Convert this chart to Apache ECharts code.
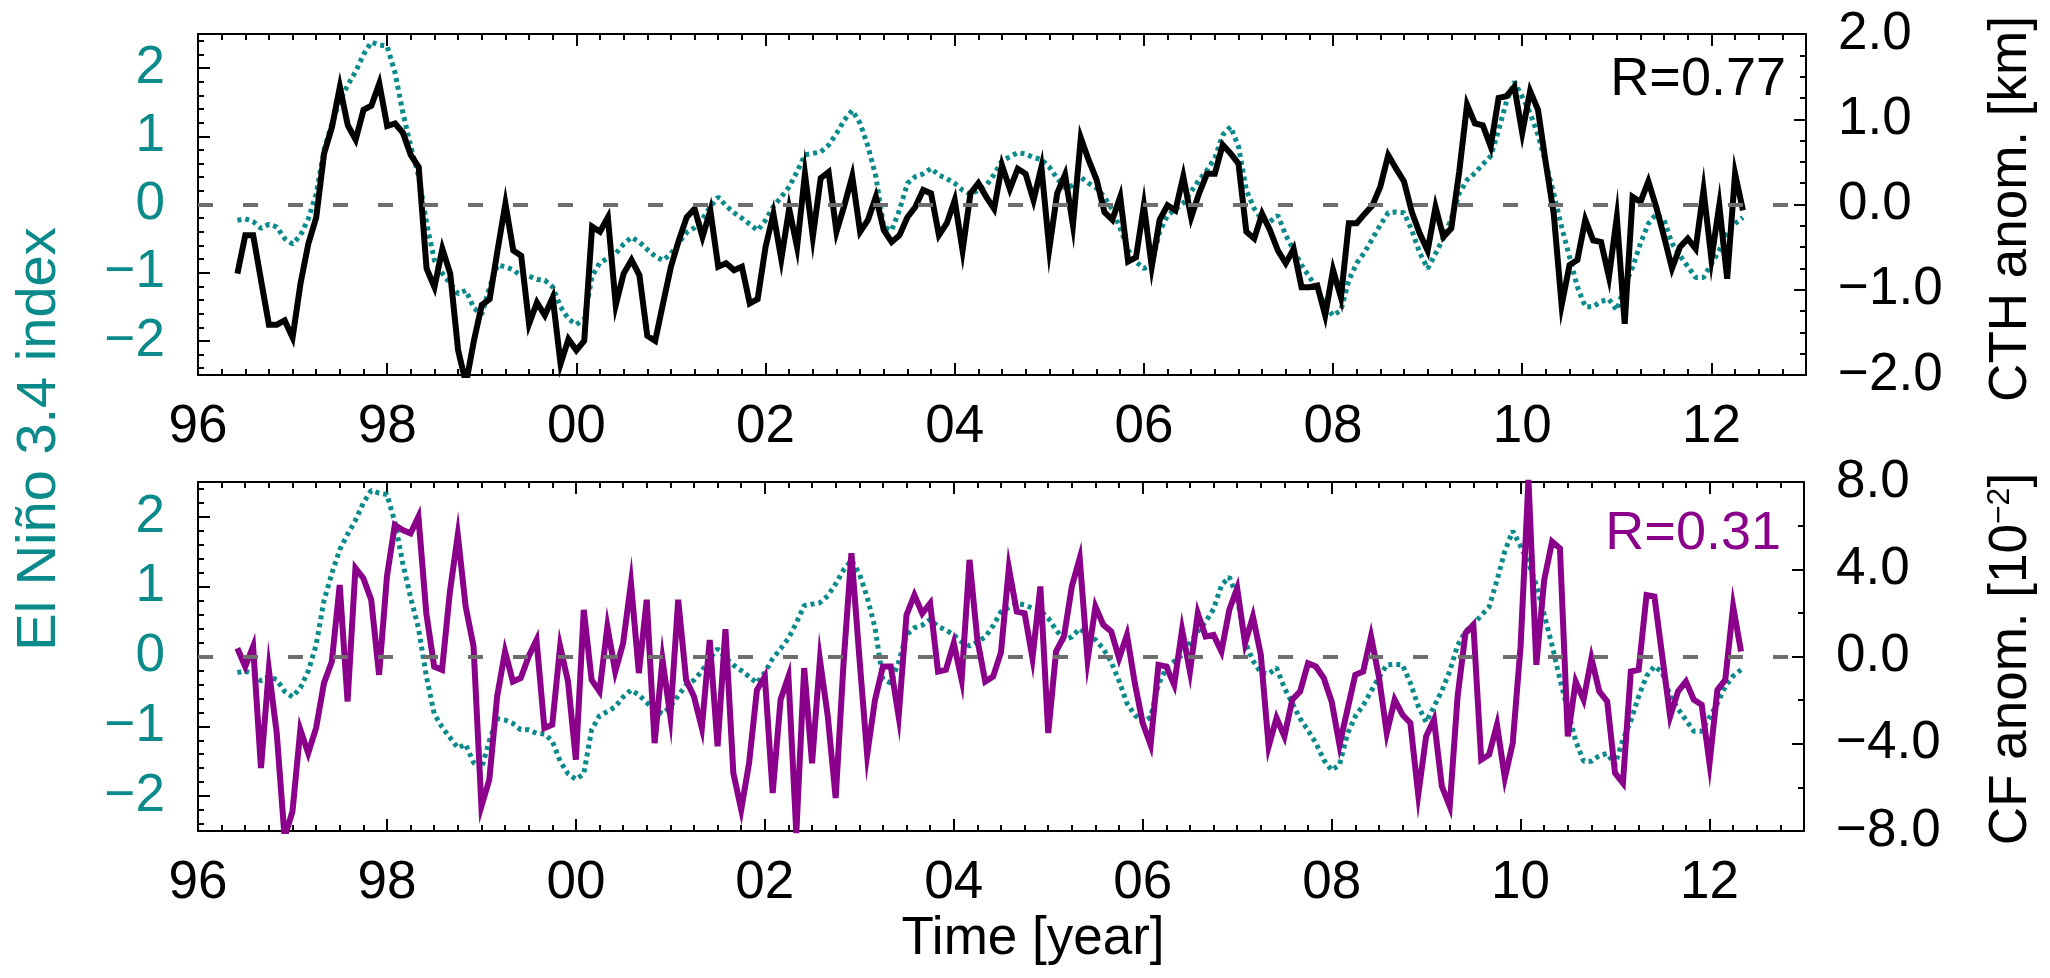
<!DOCTYPE html>
<html>
<head>
<meta charset="utf-8">
<script src="https://cdn.jsdelivr.net/npm/echarts@6/dist/echarts.min.js"></script>
<style>
html, body { margin: 0; padding: 0; background: #fff; }
#main { width: 2050px; height: 978px; }
</style>
</head>
<body>
<div id="main"></div>
<script>
// monthly series, June 1996 .. May 2012
var startYear = 1996;
var startMonth = 6;

var nino = [
  -0.23, -0.21, -0.25, -0.35, -0.29, -0.33, -0.50, -0.58, -0.45, -0.21, 0.16, 0.80,
  1.19, 1.53, 1.75, 1.95, 2.20, 2.38, 2.34, 2.32, 1.93, 1.34, 0.85, 0.41,
  -0.28, -0.82, -1.01, -1.16, -1.31, -1.26, -1.52, -1.61, -1.21, -0.89, -0.91, -0.96,
  -1.05, -1.05, -1.10, -1.11, -1.21, -1.50, -1.68, -1.76, -1.68, -1.05, -0.85, -0.79,
  -0.72, -0.58, -0.48, -0.55, -0.66, -0.76, -0.82, -0.72, -0.56, -0.41, -0.34, -0.21,
  -0.03, 0.11, -0.02, -0.12, -0.20, -0.29, -0.38, -0.23, -0.03, 0.11, 0.26, 0.48,
  0.73, 0.75, 0.77, 0.87, 1.04, 1.24, 1.38, 1.19, 0.85, 0.41, -0.33, -0.38,
  -0.08, 0.31, 0.41, 0.45, 0.53, 0.43, 0.38, 0.31, 0.21, 0.15, 0.21, 0.28,
  0.44, 0.64, 0.70, 0.76, 0.74, 0.69, 0.66, 0.55, 0.38, 0.24, 0.28, 0.40,
  0.31, 0.24, 0.11, -0.08, -0.35, -0.67, -0.84, -0.94, -0.87, -0.40, -0.16, -0.07,
  0.02, 0.19, 0.36, 0.50, 0.68, 1.02, 1.14, 0.85, 0.21, -0.06, -0.23, -0.25,
  -0.16, -0.45, -0.67, -0.89, -1.06, -1.24, -1.48, -1.63, -1.55, -1.11, -0.86, -0.70,
  -0.50, -0.30, -0.12, -0.11, -0.12, -0.38, -0.71, -0.94, -0.72, -0.49, -0.21, 0.16,
  0.36, 0.46, 0.59, 0.71, 1.09, 1.51, 1.80, 1.58, 1.34, 1.02, 0.60, 0.16,
  -0.33, -0.77, -1.21, -1.50, -1.50, -1.42, -1.39, -1.55, -1.19, -0.92, -0.57, -0.28,
  -0.14, -0.23, -0.57, -0.75, -0.91, -1.07, -1.07, -0.87, -0.67, -0.43, -0.28, -0.19
];

// cloud top height anomaly [km]
var cth = [
  -0.81, -0.36, -0.36, -0.89, -1.41, -1.41, -1.36, -1.56, -0.93, -0.46, -0.15, 0.60,
  0.91, 1.38, 0.93, 0.76, 1.11, 1.16, 1.42, 0.92, 0.95, 0.84, 0.58, 0.44,
  -0.75, -0.97, -0.52, -0.81, -1.71, -2.10, -1.60, -1.18, -1.11, -0.54, 0.01, -0.54,
  -0.60, -1.40, -1.15, -1.30, -1.09, -1.87, -1.58, -1.71, -1.60, -0.26, -0.32, -0.15,
  -1.18, -0.81, -0.65, -0.83, -1.54, -1.60, -1.16, -0.73, -0.42, -0.15, -0.05, -0.38,
  -0.07, -0.73, -0.69, -0.77, -0.73, -1.16, -1.11, -0.50, -0.11, -0.64, -0.05, -0.50,
  0.36, -0.38, 0.31, 0.38, -0.32, -0.01, 0.33, -0.32, -0.18, 0.09, -0.30, -0.44,
  -0.36, -0.15, -0.03, 0.17, 0.13, -0.36, -0.22, 0.05, -0.54, 0.13, 0.25, 0.09,
  -0.05, 0.46, 0.18, 0.42, 0.36, 0.05, 0.44, -0.52, 0.13, 0.35, -0.24, 0.78,
  0.52, 0.29, -0.09, -0.18, 0.09, -0.67, -0.62, -0.01, -0.73, -0.18, -0.01, -0.07,
  0.33, -0.15, 0.13, 0.36, 0.36, 0.70, 0.60, 0.48, -0.32, -0.40, -0.11, -0.30,
  -0.54, -0.69, -0.52, -0.97, -0.97, -0.95, -1.30, -0.77, -1.09, -0.22, -0.22, -0.11,
  -0.01, 0.21, 0.58, 0.42, 0.27, -0.09, -0.34, -0.54, -0.03, -0.38, -0.28, 0.38,
  1.17, 0.95, 0.93, 0.68, 1.25, 1.27, 1.38, 0.84, 1.33, 1.11, 0.48, -0.11,
  -1.18, -0.71, -0.65, -0.18, -0.42, -0.44, -0.85, -0.15, -1.40, 0.09, 0.03, 0.27,
  -0.03, -0.38, -0.75, -0.50, -0.40, -0.52, 0.17, -0.64, -0.01, -0.87, 0.36, -0.07
];

// cloud fraction anomaly [10^-2]
var cf = [
  0.38, -0.46, 0.46, -5.11, -0.61, -3.51, -8.30, -7.10, -3.36, -4.43, -3.28, -1.22,
  -0.23, 3.28, -2.06, 4.05, 3.59, 2.60, -0.84, 3.66, 6.03, 5.80, 5.65, 6.41,
  1.98, -0.46, -0.61, 2.98, 5.57, 2.29, 0.46, -6.87, -5.65, -1.83, 0.23, -1.15,
  -0.99, 0.00, 0.76, -3.28, -3.13, 0.46, -1.15, -4.73, 2.14, -1.07, -1.60, 1.37,
  -0.69, 0.61, 3.36, -0.76, 2.60, -3.97, -0.15, -2.75, 2.60, -1.07, -1.83, -3.28,
  0.76, -4.12, 1.25, -5.34, -7.02, -4.89, -1.53, -0.92, -6.26, -1.98, -0.92, -8.10,
  -0.53, -4.89, -0.15, -2.75, -6.49, -0.31, 4.73, 0.00, -4.50, -1.98, -0.46, -0.46,
  -2.75, 1.91, 2.82, 1.98, 2.44, -0.69, -0.61, 0.61, -1.07, 4.43, 0.76, -1.15,
  -0.92, 0.20, 4.05, 2.06, 1.98, -0.08, 3.21, -3.51, 0.23, 0.92, 3.21, 4.50,
  -0.15, 2.29, 1.45, 1.15, -0.08, 0.99, -1.22, -3.05, -4.05, -0.38, -0.46, -1.30,
  1.22, -0.69, 1.98, 0.92, 0.99, 0.23, 2.14, 3.13, 0.61, 1.83, 0.08, -4.12,
  -2.82, -3.66, -1.98, -1.60, -0.31, -0.46, -0.99, -2.06, -4.05, -2.44, -0.84, -0.69,
  0.92, -0.92, -3.51, -1.98, -2.67, -3.05, -6.34, -3.66, -2.90, -5.95, -6.87, -1.83,
  1.07, 1.45, -4.73, -4.50, -3.13, -5.57, -3.97, 0.46, 8.10, -0.38, 3.51, 5.27,
  4.96, -3.66, -1.15, -1.98, -0.08, -1.60, -2.06, -5.34, -5.80, -0.69, -0.61, 2.82,
  2.75, 0.00, -2.75, -1.60, -1.15, -1.98, -2.21, -4.89, -1.53, -1.07, 2.29, 0.23
];

var yearTicks = [1996, 1998, 2000, 2002, 2004, 2006, 2008, 2010, 2012];
var ninoTicks = [-2, -1, 0, 1, 2];
var cthTicks = [-2, -1, 0, 1, 2];
var cfTicks = [-8, -4, 0, 4, 8];
var rTop = 'R=0.77';
var rBottom = 'R=0.31';

var TEAL = '#0a8a8a';
var PURPLE = '#8b008b';
var FONT = "'Liberation Sans', Arial, Helvetica, sans-serif";

function steps(a, b, s) {
  var r = [];
  for (var v = a; v <= b + 1e-9; v += s) r.push(Math.round(v * 1000) / 1000);
  return r;
}
function signed(v, d) {
  var s = Math.abs(v).toFixed(d);
  return v < 0 ? '\u2212' + s : s;
}
function pairs(vals) {
  return vals.map(function (v, i) {
    return [startYear + (startMonth - 1 + i) / 12, v];
  });
}

var tickLine = { color: '#000', width: 2 };

function makeX(g) {
  var base = { gridIndex: g, type: 'value', min: 1996, max: 2013, splitLine: { show: false } };
  var list = [];
  ['bottom', 'top'].forEach(function (pos) {
    list.push(Object.assign({}, base, {
      position: pos,
      axisLine: { show: true, onZero: false, lineStyle: { color: '#000', width: 2 } },
      axisTick: { inside: true, length: 12, customValues: yearTicks, lineStyle: tickLine },
      axisLabel: {
        show: pos === 'bottom', customValues: yearTicks, margin: 26,
        fontSize: 53, color: '#000', fontFamily: FONT,
        formatter: function (v) { return ('0' + (v % 100)).slice(-2); }
      }
    }));
    list.push(Object.assign({}, base, {
      position: pos,
      axisLine: { show: false, onZero: false },
      axisTick: { inside: true, length: 6, customValues: steps(1996, 2013, 0.25), lineStyle: tickLine },
      axisLabel: { show: false }
    }));
  });
  return list;
}

function makeY(g, rmin, rmax, rTicks, rMinor) {
  return [
    {
      gridIndex: g, type: 'value', position: 'left', min: -2.5, max: 2.5,
      splitLine: { show: false },
      axisLine: { show: true, onZero: false, lineStyle: { color: '#000', width: 2 } },
      axisTick: { inside: true, length: 12, customValues: ninoTicks, lineStyle: tickLine },
      axisLabel: {
        customValues: ninoTicks, margin: 33, fontSize: 53, color: TEAL, fontFamily: FONT,
        formatter: function (v) { return signed(v, 0); }
      }
    },
    {
      gridIndex: g, type: 'value', position: 'left', min: -2.5, max: 2.5,
      splitLine: { show: false }, axisLine: { show: false, onZero: false }, axisLabel: { show: false },
      axisTick: { inside: true, length: 6, customValues: steps(-2.4, 2.4, 0.2), lineStyle: tickLine }
    },
    {
      gridIndex: g, type: 'value', position: 'right', min: rmin, max: rmax,
      splitLine: { show: false },
      axisLine: { show: true, onZero: false, lineStyle: { color: '#000', width: 2 } },
      axisTick: { inside: true, length: 12, customValues: rTicks, lineStyle: tickLine },
      axisLabel: {
        customValues: rTicks, margin: 32, fontSize: 53, color: '#000', fontFamily: FONT,
        formatter: function (v) { return signed(v, 1); }
      }
    },
    {
      gridIndex: g, type: 'value', position: 'right', min: rmin, max: rmax,
      splitLine: { show: false }, axisLine: { show: false, onZero: false }, axisLabel: { show: false },
      axisTick: { inside: true, length: 6, customValues: steps(rmin, rmax, rMinor), lineStyle: tickLine }
    }
  ];
}

function ninoSeries(g) {
  return {
    type: 'line', xAxisIndex: g * 4, yAxisIndex: g * 4, z: 2,
    data: pairs(nino), showSymbol: false, silent: true,
    lineStyle: { color: TEAL, width: 5, type: [4, 4] },
    markLine: {
      silent: true, symbol: 'none', label: { show: false },
      lineStyle: { color: '#6e6e6e', width: 4, type: [15, 30] },
      data: [{ yAxis: 0 }]
    }
  };
}

var myChart = echarts.init(document.getElementById('main'));
myChart.setOption({
  animation: false,
  backgroundColor: '#fff',
  grid: [
    { left: 198, top: 34, width: 1608, height: 341 },
    { left: 198, top: 482, width: 1606, height: 349 }
  ],
  xAxis: makeX(0).concat(makeX(1)),
  yAxis: makeY(0, -2, 2, cthTicks, 0.25).concat(makeY(1, -8, 8, cfTicks, 2)),
  series: [
    ninoSeries(0),
    {
      type: 'line', xAxisIndex: 0, yAxisIndex: 2, z: 3,
      data: pairs(cth), showSymbol: false, silent: true,
      lineStyle: { color: '#000', width: 6, join: 'miter' }
    },
    ninoSeries(1),
    {
      type: 'line', xAxisIndex: 4, yAxisIndex: 6, z: 3,
      data: pairs(cf), showSymbol: false, silent: true,
      lineStyle: { color: PURPLE, width: 6, join: 'miter' }
    }
  ],
  graphic: [
    {
      type: 'text', x: 40, y: 439, rotation: Math.PI / 2,
      style: { text: 'El Niño 3.4 index', fill: TEAL, fontSize: 56, fontFamily: FONT, align: 'center', verticalAlign: 'middle' }
    },
    {
      type: 'text', x: 2011, y: 209, rotation: Math.PI / 2,
      style: { text: 'CTH anom. [km]', fill: '#000', fontSize: 53, fontFamily: FONT, align: 'center', verticalAlign: 'middle' }
    },
    {
      type: 'text', x: 2011, y: 659, rotation: Math.PI / 2,
      style: {
        text: 'CF anom. [10{sup|\u22122}]', fill: '#000', fontSize: 53, fontFamily: FONT,
        align: 'center', verticalAlign: 'middle',
        rich: { sup: { fontSize: 32, fontFamily: FONT, verticalAlign: 'top', padding: [0, 0, 22, 0] } }
      }
    },
    {
      type: 'text', x: 1033, y: 939,
      style: { text: 'Time [year]', fill: '#000', fontSize: 53, fontFamily: FONT, align: 'center', verticalAlign: 'middle' }
    },
    {
      type: 'text', x: 1786, y: 80,
      style: { text: rTop, fill: '#000', fontSize: 54, fontFamily: FONT, align: 'right', verticalAlign: 'middle' }
    },
    {
      type: 'text', x: 1781, y: 534,
      style: { text: rBottom, fill: PURPLE, fontSize: 54, fontFamily: FONT, align: 'right', verticalAlign: 'middle' }
    }
  ]
});
</script>
</body>
</html>
